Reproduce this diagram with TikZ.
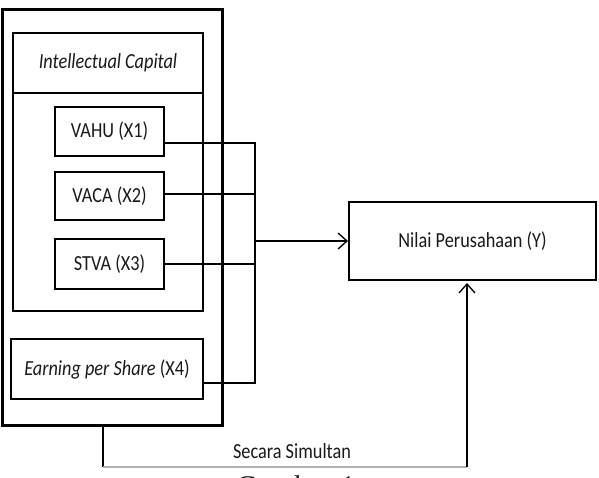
\documentclass[tikz,border=0pt]{standalone}
\usepackage{fontspec}
\setmainfont{Carlito}[FakeStretch=0.85]
\newfontfamily\capfont{Liberation Serif}
\usetikzlibrary{arrows.meta}
\begin{document}
\begin{tikzpicture}[x=1pt,y=-1pt,
  font=\fontsize{21.5}{25}\selectfont,
  txt/.style={text=black!90},
  boxed/.style={draw, inner sep=0pt, txt},
  conn/.style={line width=1.3pt},
  arr/.style={conn, -{Straight Barb[length=9pt,width=16pt,line width=1.3pt]}}]
\useasboundingbox (0,0) rectangle (599,478);
% outer group
\node[boxed, line width=3pt, minimum width=220pt, minimum height=415pt] (outer) at (112,217.5) {};
\node[boxed, line width=2.5pt, minimum width=190pt, minimum height=278pt] (ic) at (108,172) {};
\node[boxed, line width=2.5pt, minimum width=190pt, minimum height=60pt, font=\fontsize{21.5}{25}\selectfont\itshape] (ictitle) at (108,63) {Intellectual Capital};
\node[boxed, line width=2pt, minimum width=109pt, minimum height=49pt] (vahu) at (109.5,131.5) {VAHU (X1)};
\node[boxed, line width=2pt, minimum width=109pt, minimum height=48pt] (vaca) at (109.5,196) {VACA (X2)};
\node[boxed, line width=2pt, minimum width=109pt, minimum height=50pt] (stva) at (109.5,264) {STVA (X3)};
\node[boxed, line width=1.8pt, minimum width=192pt, minimum height=60pt] (eps) at (107,369) {\textit{Earning per Share} (X4)};
% dependent
\node[boxed, line width=2pt, minimum width=247pt, minimum height=78pt] (y) at (472.5,241) {Nilai Perusahaan (Y)};
% connectors
\coordinate (jn) at (255,241);
\draw[conn] ([yshift=-11.5pt]vahu.east) -| (jn);
\draw[conn] ([yshift=2pt]vaca.east) -- ([yshift=2pt]vaca.east -| jn);
\draw[conn] (stva.east) -- (stva.east -| jn);
\draw[conn] ([yshift=-14pt]eps.east) -| (jn);
\draw[arr] (jn) -- (y.west);
% simultaneous path
\coordinate (b1) at (103,467);
\coordinate (b2) at (467,467);
\draw[conn] (outer.south -| b1) -- (b1);
\draw[black!30, line width=1.2pt] (b1) -- (b2);
\draw[arr, shorten >=2pt] (b2) -- ([xshift=-5.5pt]y.south);
\node[txt, inner sep=0pt] (sim) at (292,451) {Secara Simultan};
\node[txt, inner sep=0pt, anchor=base west, font=\capfont\fontsize{30}{30}\selectfont] (cap) at (236,496) {Gambar 1};
\end{tikzpicture}
\end{document}
